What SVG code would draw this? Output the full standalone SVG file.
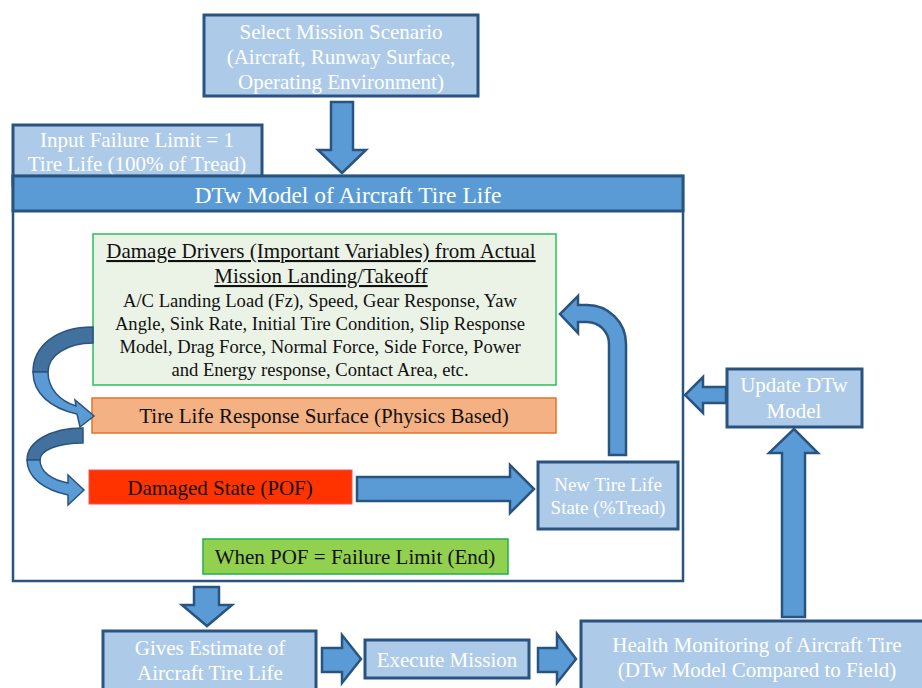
<svg xmlns="http://www.w3.org/2000/svg" width="922" height="688" viewBox="0 0 922 688">
<style>
text{font-family:"Liberation Serif","Times New Roman",serif;text-anchor:middle}
.lb{fill:#adcbe9;stroke:#2a5480;stroke-width:3}
.wt{fill:#ffffff;font-size:21px}
.bk{fill:#111111;font-size:21px}
.arr{fill:#5b9bd5;stroke:#2a5480;stroke-width:2.5;stroke-linejoin:miter}
.carrD{fill:#41719c;stroke:#2a5480;stroke-width:1.5}
.carrL{fill:#5b9bd5;stroke:#2a5480;stroke-width:1.5}
</style>
<rect width="922" height="688" fill="#ffffff"/>

<g id="select-mission">
<rect class="lb" x="204" y="15" width="274" height="81"/>
<text class="wt" x="341" y="39">Select Mission Scenario</text>
<text class="wt" x="341" y="64">(Aircraft, Runway Surface,</text>
<text class="wt" x="341" y="89">Operating Environment)</text>
</g>

<g id="input-failure">
<rect class="lb" x="13" y="125" width="249" height="60"/>
<text class="wt" x="137" y="147">Input Failure Limit = 1</text>
<text class="wt" x="137" y="171">Tire Life (100% of Tread)</text>
</g>

<g id="dtw-model">
<rect x="13" y="176" width="670" height="405" fill="#ffffff" stroke="#2a5480" stroke-width="2.5"/>
<rect x="13" y="176" width="670" height="35" fill="#5b9bd5" stroke="#2a5480" stroke-width="3"/>
<text x="348" y="203" fill="#ffffff" style="font-size:23.5px">DTw Model of Aircraft Tire Life</text>
</g>

<g id="damage-drivers">
<rect x="93" y="234" width="463" height="151" fill="#ebf3e6" stroke="#2fbf5a" stroke-width="1.5"/>
<text class="bk" x="321" y="258" text-decoration="underline">Damage Drivers (Important Variables) from Actual</text>
<text class="bk" x="321" y="283" text-decoration="underline">Mission Landing/Takeoff</text>
<text class="bk" x="320" y="307" style="font-size:18.6px">A/C Landing Load (Fz), Speed, Gear Response, Yaw</text>
<text class="bk" x="320" y="330" style="font-size:18.6px">Angle, Sink Rate, Initial Tire Condition, Slip Response</text>
<text class="bk" x="320" y="353" style="font-size:18.6px">Model, Drag Force, Normal Force, Side Force, Power</text>
<text class="bk" x="320" y="376" style="font-size:18.6px">and Energy response, Contact Area, etc.</text>
</g>

<g id="response-surface">
<rect x="92" y="398" width="464" height="35" fill="#f4b183" stroke="#e67327" stroke-width="1.5"/>
<text class="bk" x="324" y="423">Tire Life Response Surface (Physics Based)</text>
</g>

<g id="damaged-state">
<rect x="89" y="470" width="263" height="34" fill="#ff3300" stroke="#ee5560" stroke-width="1"/>
<text class="bk" x="220" y="495">Damaged State (POF)</text>
</g>

<g id="when-pof">
<rect x="203" y="539" width="305" height="35" fill="#92d050" stroke="#1fb050" stroke-width="1.5"/>
<text class="bk" x="355" y="564">When POF = Failure Limit (End)</text>
</g>

<g id="new-tire-life">
<rect class="lb" x="538" y="462" width="140" height="67"/>
<text class="wt" x="608" y="491" style="font-size:19px">New Tire Life</text>
<text class="wt" x="608" y="514" style="font-size:19px">State (%Tread)</text>
</g>

<g id="update-dtw">
<rect class="lb" x="727" y="369" width="135" height="58"/>
<text class="wt" x="794" y="392">Update DTw</text>
<text class="wt" x="794" y="418">Model</text>
</g>

<g id="gives-estimate">
<rect class="lb" x="103" y="631" width="213" height="70"/>
<text class="wt" x="210" y="655">Gives Estimate of</text>
<text class="wt" x="210" y="680">Aircraft Tire Life</text>
</g>

<g id="execute-mission">
<rect class="lb" x="365" y="640" width="164" height="38"/>
<text class="wt" x="447" y="667">Execute Mission</text>
</g>

<g id="health-monitoring">
<rect class="lb" x="581" y="621" width="352" height="80"/>
<text class="wt" x="757" y="652">Health Monitoring of Aircraft Tire</text>
<text class="wt" x="757" y="677">(DTw Model Compared to Field)</text>
</g>

<g id="connectors">
<path class="arr" d="M331,102 L353,102 L353,150 L366,150 L342,173 L318,150 L331,150 Z"/>
<path class="carrD" d="M93,327 C55,327 33,347 33,372 L48,372 C48,355 68,343 93,343 Z"/>
<path class="carrL" d="M33,372 C33,393 50,408 77,414 L80,427 L94,416 L75,400 L76,406 C60,401 48,389 48,372 Z"/>
<path class="carrD" d="M83,428 C50,428 27,442 27,460 L40,460 C40,450 58,443 83,443 Z"/>
<path class="carrL" d="M27,460 C27,478 45,490 68,495 L68,505 L84,490 L68,475 L68,483 C52,480 40,472 40,460 Z"/>
<path class="arr" d="M357,477 L510,477 L510,465 L534,489 L510,513 L510,501 L357,501 Z"/>
<path class="arr" d="M609,455 L609,344 A22,22 0 0 0 587,322 L578,322 L578,333 L560,314 L578,296 L578,305 L587,305 A39,39 0 0 1 626,344 L626,455 Z"/>
<path class="arr" d="M726,387 L703,387 L703,377 L685,395 L703,413 L703,403 L726,403 Z"/>
<path class="arr" d="M782,617 L782,453 L769,453 L794,429 L818,453 L805,453 L805,617 Z"/>
<path class="arr" d="M194,587 L219,587 L219,605 L232,605 L207,626 L182,605 L194,605 Z"/>
<path class="arr" d="M322,648 L342,648 L342,635 L361,659 L342,683 L342,672 L322,672 Z"/>
<path class="arr" d="M538,648 L557,648 L557,634 L576,659 L557,683 L557,672 L538,672 Z"/>
</g>
</svg>
